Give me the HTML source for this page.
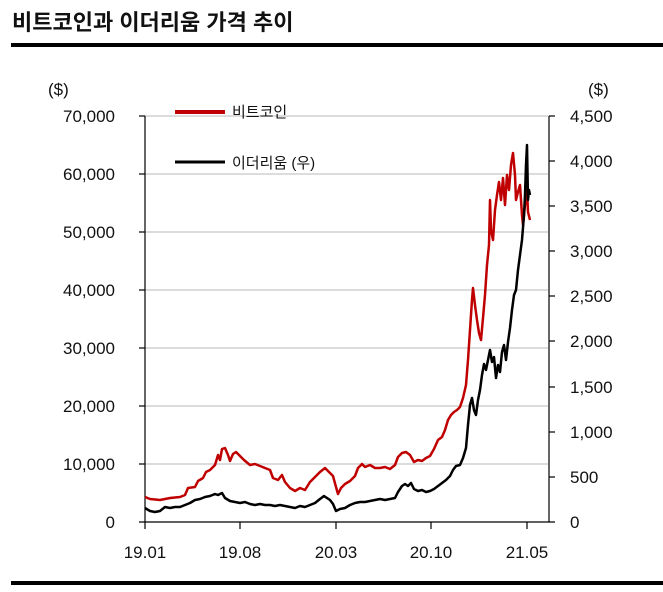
<!DOCTYPE html>
<html><head><meta charset="utf-8"><style>
body{margin:0;background:#fff;}
svg text{font-family:"Liberation Sans","Noto Sans CJK KR",sans-serif;}
</style></head><body>
<svg width="663" height="587" viewBox="0 0 663 587" xmlns="http://www.w3.org/2000/svg">
<text x="12" y="30" font-size="22" font-weight="bold" fill="#111">비트코인과 이더리움 가격 추이</text>
<rect x="11" y="43" width="652" height="4" fill="#000"/>
<rect x="11" y="581" width="652" height="4" fill="#000"/>
<g stroke="#d0d0d0" stroke-width="1.5">
<line x1="145" y1="116" x2="548" y2="116"/><line x1="145" y1="174" x2="548" y2="174"/>
<line x1="145" y1="232" x2="548" y2="232"/><line x1="145" y1="290" x2="548" y2="290"/>
<line x1="145" y1="348" x2="548" y2="348"/><line x1="145" y1="406" x2="548" y2="406"/>
<line x1="145" y1="464" x2="548" y2="464"/>
</g>
<g stroke="#000" stroke-width="1.2">
<line x1="145" y1="116" x2="145" y2="522"/><line x1="549" y1="116" x2="549" y2="522"/>
<line x1="139" y1="522" x2="555" y2="522"/>
<line x1="139" y1="116" x2="145" y2="116"/><line x1="139" y1="174" x2="145" y2="174"/><line x1="139" y1="232" x2="145" y2="232"/><line x1="139" y1="290" x2="145" y2="290"/><line x1="139" y1="348" x2="145" y2="348"/><line x1="139" y1="406" x2="145" y2="406"/><line x1="139" y1="464" x2="145" y2="464"/>
<line x1="549" y1="116" x2="555" y2="116"/><line x1="549" y1="161" x2="555" y2="161"/><line x1="549" y1="206" x2="555" y2="206"/><line x1="549" y1="251" x2="555" y2="251"/><line x1="549" y1="296" x2="555" y2="296"/><line x1="549" y1="341" x2="555" y2="341"/><line x1="549" y1="387" x2="555" y2="387"/><line x1="549" y1="432" x2="555" y2="432"/><line x1="549" y1="477" x2="555" y2="477"/>
<line x1="145" y1="522" x2="145" y2="529"/><line x1="240" y1="522" x2="240" y2="529"/><line x1="336" y1="522" x2="336" y2="529"/><line x1="431" y1="522" x2="431" y2="529"/><line x1="527" y1="522" x2="527" y2="529"/>
</g>
<g font-size="17" fill="#111" text-anchor="end">
<text x="115" y="122">70,000</text><text x="115" y="180">60,000</text><text x="115" y="238">50,000</text><text x="115" y="296">40,000</text><text x="115" y="354">30,000</text><text x="115" y="412">20,000</text><text x="115" y="470">10,000</text><text x="115" y="528">0</text>
</g>
<g font-size="17" fill="#111">
<text x="570" y="122">4,500</text><text x="570" y="167">4,000</text><text x="570" y="212">3,500</text><text x="570" y="257">3,000</text><text x="570" y="302">2,500</text><text x="570" y="347">2,000</text><text x="570" y="393">1,500</text><text x="570" y="438">1,000</text><text x="570" y="483">500</text><text x="570" y="528">0</text>
<text x="48" y="95">($)</text><text x="588" y="95">($)</text>
</g>
<g font-size="17" fill="#111" text-anchor="middle">
<text x="145" y="558">19.01</text><text x="240" y="558">19.08</text><text x="336" y="558">20.03</text><text x="431" y="558">20.10</text><text x="527" y="558">21.05</text>
</g>
<line x1="175" y1="112" x2="225" y2="112" stroke="#c00000" stroke-width="4"/>
<text x="232" y="117" font-size="15" fill="#111">비트코인</text>
<line x1="175" y1="162" x2="225" y2="162" stroke="#000" stroke-width="3"/>
<text x="232" y="168" font-size="15" fill="#111">이더리움 (우)</text>
<polyline fill="none" stroke="#c00000" stroke-width="2.5" stroke-linejoin="round" points="145,497 150,499 160,500 170,498 180,497 185,495 188,488 195,487 198,481 203,478 206,472 210,470 215,465 218,455 220,460 222,449 225,448 228,455 230,461 233,454 236,452 240,456 244,460 250,465 255,464 260,466 265,468 270,470 273,478 278,480 282,475 285,482 290,488 295,491 300,488 305,490 310,482 315,477 320,472 325,468 329,472 333,476 336,487 338,494 341,488 345,484 350,481 355,476 358,468 362,464 365,467 370,465 375,468 380,468 385,467 390,469 395,465 398,457 402,453 406,452 410,455 414,462 418,460 422,461 426,458 430,456 434,449 438,440 442,437 445,430 448,420 451,415 454,412 457,410 460,407 463,398 466,385 468,360 470,330 472,300 473,288 475,305 477,320 479,333 481,340 483,318 485,295 487,265 489,245 490,200 491,230 493,240 495,210 497,195 499,182 501,200 503,178 505,205 507,175 509,190 511,165 513,153 515,175 516,200 518,192 520,185 522,215 523,225 525,205 527,190 528,212 530,220"/>
<polyline fill="none" stroke="#000" stroke-width="2.5" stroke-linejoin="round" points="145,508 150,511 155,512 160,511 165,507 170,508 175,507 180,507 185,505 190,503 195,500 200,499 205,497 210,496 215,494 218,495 222,493 225,498 230,501 235,502 240,503 245,502 250,504 255,505 260,504 265,505 270,505 275,506 280,505 285,506 290,507 295,508 300,506 305,507 310,505 315,503 320,499 324,496 327,498 330,500 333,504 336,511 340,509 345,508 350,505 355,503 360,502 365,502 370,501 375,500 380,499 385,500 390,499 395,498 398,492 402,486 405,484 408,486 411,483 414,489 418,491 422,490 426,492 430,491 434,489 438,486 442,483 446,480 450,476 453,470 456,466 460,465 463,458 466,448 468,425 470,405 472,398 474,410 476,415 478,400 480,390 482,375 484,364 486,370 488,360 490,350 492,362 494,357 496,378 498,365 500,372 502,352 504,345 506,360 508,342 510,328 512,310 514,295 516,290 518,270 520,255 522,240 524,215 525,195 526,165 527,145 528,200 529,190 530,195"/>
</svg>
</body></html>
